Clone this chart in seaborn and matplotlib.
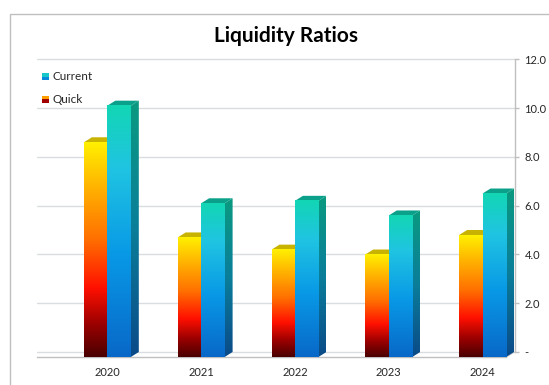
import numpy as np
import pandas as pd
import matplotlib
matplotlib.use("Agg")
import matplotlib.pyplot as plt
import seaborn as sns
from matplotlib.colors import LinearSegmentedColormap
from matplotlib.patches import Polygon, Rectangle
from matplotlib.legend_handler import HandlerBase

# ---- data ----
years = ["2020", "2021", "2022", "2023", "2024"]
quick = [8.8, 4.9, 4.4, 4.2, 5.0]
current = [10.3, 6.3, 6.4, 5.8, 6.7]
series = ["Quick", "Current"]
legend_order = ["Current", "Quick"]
yticks = [0, 2, 4, 6, 8, 10, 12]
ytick_labels = ["-", "2.0", "4.0", "6.0", "8.0", "10.0", "12.0"]
title = "Liquidity Ratios"

df = pd.DataFrame({
    "Year": years * 2,
    "Ratio": quick + current,
    "Series": ["Quick"] * len(years) + ["Current"] * len(years),
})

sns.set_theme(style="white")
plt.rcParams['font.family'] = ['Lato', 'DejaVu Sans']

W, H = 549, 385
PX_X = 93.8   # pixels per category unit
PX_Y = 24.4   # pixels per value unit
XL = (-0.75, 4.35)
YL = (0, 12.25)
ax_left, ax_bottom = 37, 357

fig = plt.figure(figsize=(W / 100, H / 100), dpi=100)
fig.patch.set_facecolor("white")
ax_w = (XL[1] - XL[0]) * PX_X
ax_h = (YL[1] - YL[0]) * PX_Y
ax = fig.add_axes([ax_left / W, 1 - ax_bottom / H, ax_w / W, ax_h / H])

sns.barplot(data=df, x="Year", y="Ratio", hue="Series", hue_order=series,
            order=years, width=0.5, errorbar=None, legend=False,
            palette={"Quick": "#FF6A00", "Current": "#10A8E0"}, ax=ax)

ax.set_xlim(*XL)
ax.set_ylim(*YL)

# 3D depth (back wall offset) in data units
dx = 8 / PX_X
dy = 5 / PX_Y

front_cmaps = {
    "Quick": LinearSegmentedColormap.from_list("q", [
        (0.0, "#4A0000"), (0.15, "#9A0000"), (0.32, "#FF1000"),
        (0.55, "#FF7000"), (0.78, "#FFB000"), (1.0, "#FFF000")]),
    "Current": LinearSegmentedColormap.from_list("c", [
        (0.0, "#0868C8"), (0.4, "#0898E6"), (0.75, "#20C4E2"),
        (1.0, "#12D6B4")]),
}
side_cmaps = {
    "Quick": LinearSegmentedColormap.from_list("qs", ["#3A0000", "#B09000"]),
    "Current": LinearSegmentedColormap.from_list("cs", ["#0A4A88", "#0A7E9A", "#0A9A80"]),
}
top_colors = {"Quick": "#C8B400", "Current": "#0AA08A"}
grad = np.linspace(0, 1, 256).reshape(-1, 1)

bars = []
for s, cont in zip(series, ax.containers):
    for bar in cont:
        bars.append((bar.get_x(), s, bar))
bars.sort(key=lambda t: t[0])

z = 3
for x0, s, bar in bars:
    w = bar.get_width()
    h = bar.get_height()
    bar.set_visible(False)
    side = Polygon([(x0 + w, 0), (x0 + w + dx, dy), (x0 + w + dx, h + dy), (x0 + w, h)],
                   closed=True, facecolor="none", edgecolor="none")
    ax.add_patch(side)
    im = ax.imshow(grad, extent=[x0 + w, x0 + w + dx, 0, h + dy], origin="lower",
                   cmap=side_cmaps[s], aspect="auto", zorder=z, interpolation="bilinear")
    im.set_clip_path(side)
    top = Polygon([(x0, h), (x0 + dx, h + dy), (x0 + w + dx, h + dy), (x0 + w, h)],
                  closed=True, facecolor=top_colors[s], edgecolor="none", zorder=z)
    ax.add_patch(top)
    ax.imshow(grad, extent=[x0, x0 + w, 0, h], origin="lower", cmap=front_cmaps[s],
              aspect="auto", zorder=z + 0.5, interpolation="bilinear")
    z += 1

ax.set_xlim(*XL)
ax.set_ylim(*YL)

# axes styling: value axis lives on the back wall
ax.set_axisbelow(True)
ax.set_yticks([v + dy for v in yticks])
ax.set_yticklabels(ytick_labels)
ax.yaxis.grid(True, color="#D9DCE0", lw=1)
ax.xaxis.grid(False)
for nm in ["left", "top"]:
    ax.spines[nm].set_visible(False)
for nm in ["right", "bottom"]:
    ax.spines[nm].set_color("#BFBFBF")
    ax.spines[nm].set_linewidth(1)
ax.spines["right"].set_bounds(yticks[0] + dy, yticks[-1] + dy)
x_first, x_last = -0.75, len(years) - 0.75
ax.spines["bottom"].set_bounds(x_first, x_last)
ax.plot([x_last, x_last + dx], [0, dy], color="#BFBFBF", lw=1, clip_on=False, zorder=2)
ax.yaxis.tick_right()
ax.set_xticks(range(len(years)))
ax.set_xticklabels(years)
ax.set_xticks(np.arange(x_first, x_last + 0.01, 0.5), minor=True)
ax.tick_params(axis="x", which="major", length=0, pad=7, labelsize=8, labelcolor="#262626")
ax.tick_params(axis="x", which="minor", length=4, color="#BFBFBF", width=1, direction="out")
ax.tick_params(axis="y", which="major", length=3, color="#BFBFBF", width=1, direction="out",
               pad=3.5, labelsize=8, labelcolor="#262626", right=True, left=False)
ax.set_xlabel("")
ax.set_ylabel("")


class TwoTone(HandlerBase):
    def __init__(self, c_top, c_bot):
        super().__init__()
        self.c_top, self.c_bot = c_top, c_bot

    def create_artists(self, legend, orig, xd, yd, width, height, fontsize, trans):
        r1 = Rectangle((xd, yd + height / 2), width, height / 2, facecolor=self.c_top,
                       edgecolor="none", transform=trans)
        r2 = Rectangle((xd, yd), width, height / 2, facecolor=self.c_bot,
                       edgecolor="none", transform=trans)
        return [r1, r2]


legend_colors = {"Current": ("#18C8C8", "#0888D8"), "Quick": ("#FFA000", "#A00000")}
handles = [Rectangle((0, 0), 1, 1) for _ in legend_order]
handler_map = {hd: TwoTone(*legend_colors[s]) for hd, s in zip(handles, legend_order)}
ax.legend(handles, legend_order, handler_map=handler_map, loc="upper left",
          bbox_to_anchor=(42 / W, 1 - 71 / H), bbox_transform=fig.transFigure,
          frameon=False, handlelength=0.6, handleheight=0.6, handletextpad=0.3,
          labelspacing=1.0, fontsize=8.5, borderpad=0, borderaxespad=0)

fig.text(285.5 / W, 1 - 42 / H, title, ha="center", va="baseline", fontsize=15,
         fontweight="bold", color="#000000")
fig.patches.append(Rectangle((10 / W, -0.1), 1.0, 1 - 14 / H + 0.1, transform=fig.transFigure,
                             fill=False, edgecolor="#BFBFBF", lw=1))

fig.savefig("out.png", dpi=100)
